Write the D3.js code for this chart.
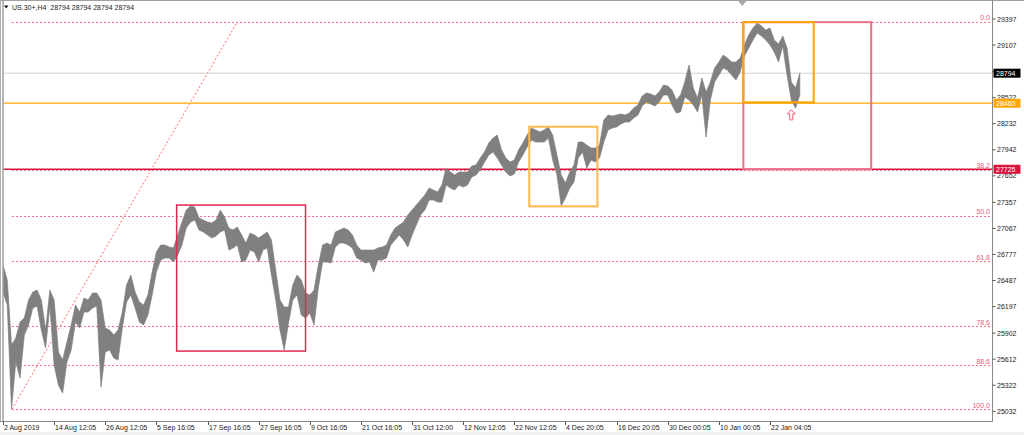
<!DOCTYPE html>
<html><head><meta charset="utf-8">
<script src="https://cdn.jsdelivr.net/npm/d3@7"></script>
<style>html,body{margin:0;padding:0;background:#fff;overflow:hidden}svg{display:block}</style>
</head><body><svg id="c" width="1024" height="435"></svg>
<script>
// ---------- DATA ----------
const chartTitle = "US.30+,H4  28794 28794 28794 28794";
const barStep = 4; // each sample covers 4 H4 bars
const highs = [
26659,26493,25769,25847,26025,26070,26270,26359,26381,26270,
25936,26381,26270,25691,25602,25803,25992,26214,26136,26292,
26270,26348,26348,26270,25958,25936,25880,25936,26136,26437,
26548,26359,26248,26214,26326,26581,26804,26882,26882,26860,
26849,26993,27138,27271,27316,27305,27182,27160,27138,27127,
27160,27271,27193,27071,27049,27082,26993,26904,27015,26993,
26960,26993,27027,26938,26604,26270,26192,26192,26437,26548,
26492,26348,26326,26381,26659,26882,26904,26882,27027,27049,
27071,27049,26993,26882,26826,26826,26826,26826,26849,26860,
26882,26993,27071,27104,27138,27216,27271,27327,27383,27438,
27516,27494,27472,27550,27739,27694,27661,27694,27694,27694,
27761,27772,27850,27917,28017,28072,28106,27939,27850,27805,
27828,27939,28017,28106,28184,28162,28139,28162,28195,28106,
27883,27661,27572,27694,27772,28028,28028,27995,27961,27961,
27995,28273,28328,28317,28328,28340,28328,28351,28406,28440,
28540,28573,28562,28540,28584,28662,28651,28607,28495,28551,
28696,28885,28629,28518,28740,28584,28696,28851,28918,28996,
28963,28918,28918,28963,29107,29219,29296,29352,29319,29274,
29296,29163,29118,29207,29074,28696,28629,28794];
const lows = [
26359,26214,25057,25580,25402,25880,25992,26181,26203,25936,
25736,26203,25547,25324,25235,25580,25714,26025,25958,26136,
26136,26181,26203,25302,25691,25714,25625,25602,25958,26248,
26326,26181,26025,25992,26103,26326,26581,26715,26737,26737,
26693,26771,26882,27071,27138,27160,27049,27027,26993,26960,
26982,27027,27049,26826,26849,26882,26693,26715,26826,26804,
26693,26826,26849,26548,26270,25936,25714,26014,26270,26326,
26103,26070,26125,25992,26403,26693,26693,26682,26860,26904,
26904,26882,26849,26737,26715,26682,26693,26581,26715,26715,
26737,26882,26938,26993,26938,26860,26993,27104,27216,27271,
27383,27383,27360,27360,27550,27516,27494,27550,27527,27550,
27638,27661,27716,27805,27883,27917,27850,27772,27694,27650,
27672,27805,27883,27972,28050,28028,28028,28028,28072,27828,
27661,27316,27405,27516,27583,27850,27917,27739,27828,27805,
27850,28028,28162,28184,28195,28228,28251,28251,28295,28328,
28429,28473,28451,28429,28473,28551,28551,28440,28351,28362,
28529,28495,28440,28362,28551,28084,28495,28696,28773,28851,
28829,28773,28718,28807,28985,29074,29163,29241,29207,29163,
29107,29029,28918,29096,28773,28495,28406,28551];
const timeLabels = ["2 Aug 2019","14 Aug 12:05","26 Aug 12:05","5 Sep 16:05","17 Sep 16:05",
  "27 Sep 16:05","9 Oct 16:05","21 Oct 16:05","31 Oct 12:00","12 Nov 12:05","22 Nov 12:05",
  "4 Dec 20:05","16 Dec 20:05","30 Dec 00:05","10 Jan 00:05","22 Jan 04:05"];
const barsPerLabel = 48;
const priceTicks = [29397,29107,28812,28522,28232,27942,27652,27357,27067,26777,26487,26197,25902,25612,25322,25032];
const fibHigh = 29366, fibLow = 25055;
const fibLowBar = 8.4, fibHighBar = 220;
const fibLevels = [0, 38.2, 50, 61.8, 78.6, 88.6, 100];
const levelPrices = [28794, 28460, 27725]; // current price, orange line, red line
const boxes = [ // [startBar, endBar, topPrice, bottomPrice]
  [163, 284, 27327, 25702],
  [494, 558, 28198, 27312],
  [695, 815, 29362, 27725],
  [695, 761, 29362, 28470]];
const arrowBar = 740, arrowPrice = 28330;
const shiftBar = 694;

// ---------- DRAW ----------
const W = 1024, H = 435;
const svg = d3.select('#c');
const FONT = "'Liberation Sans', Arial, sans-serif";
const x = d3.scaleLinear().domain([0, 720]).range([3, 770]);
const y = d3.scaleLinear().domain([25032, 29397]).range([411.3, 19]);
const plotR = 992.5, plotB = 421.5;

svg.append('rect').attr('width', W).attr('height', H).attr('fill', '#fff');
svg.append('rect').attr('x', 0).attr('y', 432).attr('width', W).attr('height', 3).attr('fill', '#f0f0f0');

const defs = svg.append('defs');
defs.append('clipPath').attr('id', 'clip').append('rect')
  .attr('x', 3.5).attr('y', 1).attr('width', plotR - 3.5).attr('height', plotB - 1);
const g = svg.append('g').attr('clip-path', 'url(#clip)');

// fibo levels
const fx0 = x(Math.min(fibLowBar, fibHighBar));
fibLevels.forEach(l => {
  const p = fibHigh - (fibHigh - fibLow) * l / 100;
  g.append('line').attr('x1', fx0).attr('x2', plotR).attr('y1', Math.round(y(p)) + 0.5).attr('y2', Math.round(y(p)) + 0.5)
    .attr('stroke', '#f0708a').attr('stroke-width', 1).attr('stroke-dasharray', '2,2');
  svg.append('text').attr('x', 990).attr('y', y(p) - 1.5).attr('text-anchor', 'end')
    .attr('font-family', FONT).attr('font-size', 7).attr('fill', '#e8607a').text(l.toFixed(1));
});
// fibo trend line
g.append('line').attr('x1', x(fibLowBar)).attr('y1', y(fibLow)).attr('x2', x(fibHighBar)).attr('y2', y(fibHigh))
  .attr('stroke', '#ff6b6b').attr('stroke-width', 1).attr('stroke-dasharray', '2,2');

// horizontal lines
const levelColors = ['#cfcfcf', '#ffa500', '#dc143c'];
const levelWidths = [1, 1.2, 1.4];
levelPrices.forEach((p, i) => {
  g.append('line').attr('x1', 0).attr('x2', plotR).attr('y1', y(p)).attr('y2', y(p))
    .attr('stroke', levelColors[i]).attr('stroke-width', levelWidths[i]);
});

// price series
const data = highs.map((h, i) => ({bar: i * barStep, hi: h, lo: lows[i]}));
const area = d3.area().x(d => x(d.bar)).y0(d => y(d.lo)).y1(d => y(d.hi));
g.append('path').datum(data).attr('d', area).attr('fill', '#808080')
  .attr('stroke', '#808080').attr('stroke-width', 0.7).attr('stroke-linejoin', 'round');

// rectangles
const boxColors = ['#e0284f', '#ffb84d', '#e8708a', '#ffa500'];
const boxWidths = [1.5, 2, 2, 2];
boxes.forEach((b, i) => {
  g.append('rect').attr('x', x(b[0])).attr('y', y(b[2]))
    .attr('width', x(b[1]) - x(b[0])).attr('height', y(b[3]) - y(b[2]))
    .attr('fill', 'none').attr('stroke', boxColors[i]).attr('stroke-width', boxWidths[i]);
});

// arrow
const ax = x(arrowBar), ay = y(arrowPrice);
g.append('path')
  .attr('d', `M${ax},${ay - 5} L${ax + 4},${ay - 1} L${ax + 1.5},${ay - 1} L${ax + 1.5},${ay + 5} L${ax - 1.5},${ay + 5} L${ax - 1.5},${ay - 1} L${ax - 4},${ay - 1} Z`)
  .attr('fill', '#fff').attr('stroke', '#f05a6e').attr('stroke-width', 1);

// frame
svg.append('line').attr('x1', 0).attr('x2', W).attr('y1', 0.5).attr('y2', 0.5).attr('stroke', '#a0a0a0');
svg.append('line').attr('x1', 0.5).attr('x2', 0.5).attr('y1', 0).attr('y2', plotB).attr('stroke', '#b0b0b0');
svg.append('line').attr('x1', 3).attr('x2', 3).attr('y1', 1).attr('y2', plotB).attr('stroke', '#888').attr('stroke-width', 1.2);
svg.append('line').attr('x1', plotR).attr('x2', plotR).attr('y1', 0).attr('y2', plotB).attr('stroke', '#888');
svg.append('line').attr('x1', 0).attr('x2', plotR).attr('y1', plotB).attr('y2', plotB).attr('stroke', '#888');

// chart shift marker
const sx = x(shiftBar);
svg.append('path').attr('d', `M${sx - 4},1 L${sx + 4},1 L${sx},6 Z`).attr('fill', '#a8a8a8');

// title
svg.append('path').attr('d', 'M4,5.5 L8.5,5.5 L6.25,8.5 Z').attr('fill', '#111');
svg.append('text').attr('x', 12).attr('y', 9.8).attr('font-family', FONT).attr('font-size', 7)
  .attr('fill', '#222').attr('xml:space', 'preserve').style('white-space', 'pre').text(chartTitle);

// right axis
priceTicks.forEach(p => {
  svg.append('line').attr('x1', plotR).attr('x2', plotR + 3).attr('y1', y(p)).attr('y2', y(p)).attr('stroke', '#555');
  svg.append('text').attr('x', 997).attr('y', y(p) + 2.5).attr('font-family', FONT).attr('font-size', 7)
    .attr('fill', '#222').text(p);
});
// price label boxes
const boxFill = ['#000', '#ffa500', '#dc143c'];
levelPrices.forEach((p, i) => {
  svg.append('rect').attr('x', 993.5).attr('y', y(p) - 4.5).attr('width', 27).attr('height', 9).attr('fill', boxFill[i]);
  svg.append('text').attr('x', 996).attr('y', y(p) + 2.5).attr('font-family', FONT).attr('font-size', 7)
    .attr('fill', '#fff').text(p);
});

// bottom axis
timeLabels.forEach((t, i) => {
  const tx = Math.round(x(i * barsPerLabel)) + 0.5;
  svg.append('line').attr('x1', tx).attr('x2', tx).attr('y1', plotB).attr('y2', plotB + 3.5).attr('stroke', '#555');
  svg.append('text').attr('x', tx + 0.5).attr('y', 429.5).attr('font-family', FONT).attr('font-size', 7)
    .attr('fill', '#222').text(t);
});
</script>
</body></html>
